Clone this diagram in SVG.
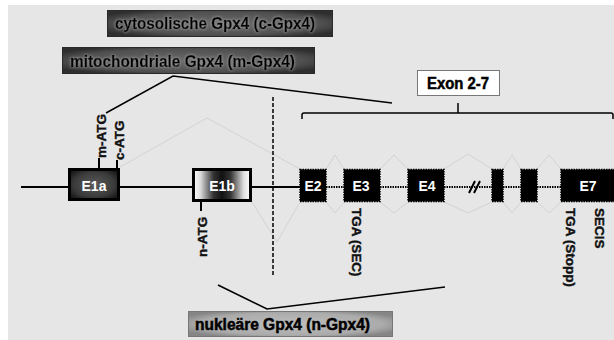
<svg xmlns="http://www.w3.org/2000/svg" width="614" height="340" viewBox="0 0 614 340">
<style>
text{font-family:"Liberation Sans",Arial,sans-serif;font-weight:bold}
.lbl{font-size:16px;fill:#000;stroke:#000;stroke-width:0.5}
.ex{font-size:14px;fill:#fff;text-anchor:middle}
.rot{font-size:13.5px;fill:#111;stroke:#111;stroke-width:0.4}
.main{stroke:#000;stroke-width:2;fill:none}
.dot{stroke:#000;stroke-width:2;fill:none;stroke-dasharray:1.5 1}
.faint{stroke:#d0d0d0;stroke-width:0.9;fill:none}
.thin{stroke:#000;stroke-width:1.5;fill:none}
.exon{fill:#000;stroke:#000;stroke-width:1.5;stroke-dasharray:1.5 1}
</style>
<defs>
<radialGradient id="darkBox" cx="50%" cy="50%" r="60%">
<stop offset="0" stop-color="#6a6a6a"/>
<stop offset="0.75" stop-color="#505050"/>
<stop offset="1" stop-color="#2e2e2e"/>
</radialGradient>
<radialGradient id="lightBox" cx="50%" cy="50%" r="60%">
<stop offset="0" stop-color="#bdbdbd"/>
<stop offset="0.75" stop-color="#ababab"/>
<stop offset="1" stop-color="#858585"/>
</radialGradient>
<radialGradient id="e1a" cx="50%" cy="50%" r="60%">
<stop offset="0" stop-color="#5a5a5a"/>
<stop offset="0.7" stop-color="#3a3a3a"/>
<stop offset="1" stop-color="#1a1a1a"/>
</radialGradient>
<linearGradient id="e1b" x1="0" y1="0" x2="1" y2="0">
<stop offset="0" stop-color="#fff"/>
<stop offset="0.12" stop-color="#ddd"/>
<stop offset="0.35" stop-color="#333"/>
<stop offset="0.5" stop-color="#111"/>
<stop offset="0.65" stop-color="#333"/>
<stop offset="0.88" stop-color="#ddd"/>
<stop offset="1" stop-color="#fff"/>
</linearGradient>
<filter id="glow" x="-10%" y="-40%" width="120%" height="180%">
<feGaussianBlur in="SourceAlpha" stdDeviation="1.4" result="b"/>
<feFlood flood-color="#b0b0b0" flood-opacity="0.9"/>
<feComposite in2="b" operator="in" result="g"/>
<feMerge><feMergeNode in="g"/><feMergeNode in="SourceGraphic"/></feMerge>
</filter>
</defs>
<rect width="614" height="340" fill="#fff"/>
<rect x="8" y="5" width="606" height="335" fill="#e6e6e6"/>

<g id="connectors">
<path class="faint" d="M120,167 L207,118 L300,169"/>
<path class="faint" d="M252,202 L277,242 L300,202"/>
<path class="faint" d="M326,169 L335,155 L344,169 M326,202 L335,213 L344,202"/>
<path class="faint" d="M380,169 L394,155 L408,169 M380,202 L394,213 L408,202"/>
<path class="faint" d="M444,169 L468,154 L492,169 M444,202 L468,213 L492,202"/>
<path class="faint" d="M503,169 L512,155 L521,169 M503,202 L512,213 L521,202"/>
<path class="faint" d="M537,169 L549,155 L561,169 M537,202 L549,213 L561,202"/>
<path class="main" d="M21,187 H68 M120,187 H192 M252,187 H300"/>
<path class="dot" d="M326,187 H344 M380,187 H408 M444,187 H492 M503,187 H521 M537,187 H561"/>
<path d="M469,193 L475,181 M474,193 L480,181" stroke="#000" stroke-width="2" fill="none"/>
<path class="main" d="M99,158 V168 M117,160 V168 M201,202 V211"/>
<path d="M273,97 V276" stroke="#000" stroke-width="1.5" stroke-dasharray="4 2" fill="none"/>
<path class="thin" d="M106,113 L173,76 L392,103"/>
<path class="thin" d="M218,285 L267,309 L445,287"/>
<path class="thin" d="M302,119 V115 Q302,113 304,113 H611 Q613,113 613,115 V119 M458,103 V113"/>
</g>

<g id="c-gpx4">
<rect x="107.5" y="10.5" width="225" height="26" fill="url(#darkBox)" stroke="#2a2a2a" stroke-width="1"/>
<text class="lbl" x="115" y="29" textLength="200" lengthAdjust="spacingAndGlyphs" filter="url(#glow)">cytosolische Gpx4 (c-Gpx4)</text>
</g>
<g id="m-gpx4">
<rect x="62.5" y="47.5" width="252" height="26" fill="url(#darkBox)" stroke="#2a2a2a" stroke-width="1"/>
<text class="lbl" x="70" y="67" textLength="225" lengthAdjust="spacingAndGlyphs" filter="url(#glow)">mitochondriale Gpx4 (m-Gpx4)</text>
</g>
<g id="exon27">
<rect x="417.5" y="70.5" width="82" height="25" fill="#fff" stroke="#777" stroke-width="1"/>
<text class="lbl" x="458" y="89" text-anchor="middle" textLength="62" lengthAdjust="spacingAndGlyphs">Exon 2-7</text>
</g>
<g id="n-gpx4">
<rect x="188.5" y="311.5" width="204" height="25" fill="url(#lightBox)" stroke="#777" stroke-width="1"/>
<text class="lbl" x="195" y="330" textLength="175" lengthAdjust="spacingAndGlyphs">nukleäre Gpx4 (n-Gpx4)</text>
</g>

<g id="E1a">
<rect x="69.5" y="169.5" width="49" height="30" fill="url(#e1a)" stroke="#000" stroke-width="3"/>
<text class="ex" x="94" y="191">E1a</text>
</g>
<g id="E1b">
<rect x="193.5" y="169.5" width="57" height="31" fill="url(#e1b)" stroke="#000" stroke-width="3"/>
<text class="ex" x="222" y="191">E1b</text>
</g>
<g id="E2">
<rect class="exon" x="300" y="169.5" width="26" height="32"/>
<text class="ex" x="313" y="191">E2</text>
</g>
<g id="E3">
<rect class="exon" x="344" y="169.5" width="36" height="32"/>
<text class="ex" x="361" y="191">E3</text>
</g>
<g id="E4">
<rect class="exon" x="408" y="169.5" width="36" height="32"/>
<text class="ex" x="427" y="191">E4</text>
</g>
<g id="E5">
<rect class="exon" x="492" y="169.5" width="11" height="32"/>
</g>
<g id="E6">
<rect class="exon" x="521" y="169.5" width="16" height="32"/>
</g>
<g id="E7">
<rect class="exon" x="561" y="169.5" width="56" height="32"/>
<text class="ex" x="588" y="191">E7</text>
</g>

<g id="m-atg"><text class="rot" transform="translate(106,158) rotate(-90)">m-ATG</text></g>
<g id="c-atg"><text class="rot" transform="translate(124,160) rotate(-90)">c-ATG</text></g>
<g id="n-atg"><text class="rot" transform="translate(207,257) rotate(-90)">n-ATG</text></g>
<g id="tga-sec"><text class="rot" transform="translate(352,208) rotate(90)">TGA (SEC)</text></g>
<g id="tga-stopp"><text class="rot" transform="translate(566,208) rotate(90)">TGA (Stopp)</text></g>
<g id="secis"><text class="rot" transform="translate(595,208) rotate(90)">SECIS</text></g>
</svg>
